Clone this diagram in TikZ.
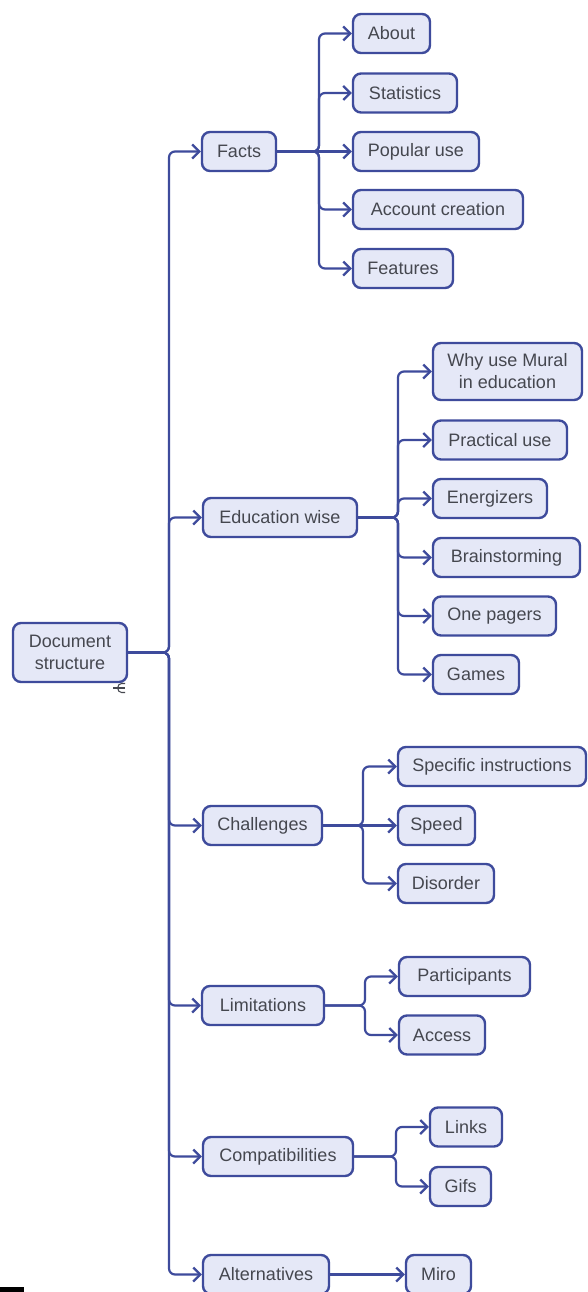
\documentclass[tikz,border=0pt]{standalone}
\usepackage{fontspec}
\setmainfont{Liberation Sans}
\usetikzlibrary{arrows.meta}
\definecolor{bord}{HTML}{3E4B9C}
\definecolor{boxfill}{HTML}{E5E8F7}
\definecolor{txt}{HTML}{45474F}
\tikzset{
  box/.style={draw=bord, fill=boxfill, line width=2.4pt, rounded corners=8pt,
    text=txt, font=\fontsize{18}{22}\selectfont, minimum height=39pt,
    inner sep=0pt, align=center},
  conn/.style={draw=bord, line width=2.2pt, rounded corners=6pt,
    -{Straight Barb[length=7pt,width=14pt]}}
}
\begin{document}
\begin{tikzpicture}[x=1pt,y=-1pt]
\useasboundingbox[fill=white] (0,0) rectangle (588,1292);

% root
\node[box, minimum width=114pt, minimum height=59pt] (root) at (70,652.5) {Document\\structure};

% level 1
\node[box, minimum width=74pt]  (facts) at (239,151.5) {Facts};
\node[box, minimum width=154pt] (edu)   at (280,517.5) {Education wise};
\node[box, minimum width=119pt] (chal)  at (262.5,825.5) {Challenges};
\node[box, minimum width=122pt] (lim)   at (263,1005.5) {Limitations};
\node[box, minimum width=150pt] (comp)  at (278,1156.5) {Compatibilities};
\node[box, minimum width=126pt] (alt)   at (266,1274.5) {Alternatives};

% facts children
\node[box, minimum width=77pt]  (about)   at (391.5,33.5) {About};
\node[box, minimum width=104pt] (stats)   at (405,93) {Statistics};
\node[box, minimum width=126pt] (popular) at (416,151.5) {Popular use};
\node[box, minimum width=170pt] (account) at (438,209.5) {Account creation};
\node[box, minimum width=100pt] (features) at (403,268.5) {Features};

% education children
\node[box, minimum width=149pt, minimum height=57pt] (why) at (507.5,371.5) {Why use Mural\\in education};
\node[box, minimum width=134pt] (practical) at (500,440) {Practical use};
\node[box, minimum width=114pt] (energ) at (490,498.5) {Energizers};
\node[box, minimum width=147pt] (brain) at (506.5,557.5) {Brainstorming};
\node[box, minimum width=123pt] (one) at (494.5,616) {One pagers};
\node[box, minimum width=86pt]  (games) at (476,674.5) {Games};

% challenges children
\node[box, minimum width=188pt] (spec) at (492,766.5) {Specific instructions};
\node[box, minimum width=77pt]  (speed) at (436.5,825.5) {Speed};
\node[box, minimum width=96pt]  (disorder) at (446,883.5) {Disorder};

% limitations children
\node[box, minimum width=131pt] (part) at (464.5,976.5) {Participants};
\node[box, minimum width=86pt]  (access) at (442,1035) {Access};

% compatibilities children
\node[box, minimum width=72pt] (links) at (466,1127) {Links};
\node[box, minimum width=61pt] (gifs) at (460.5,1186.5) {Gifs};

% alternatives child
\node[box, minimum width=65pt] (miro) at (438.5,1274.5) {Miro};

% bus coordinates
\coordinate (trunk) at (169,652.5);
\coordinate (fbus) at (319,151.5);
\coordinate (ebus) at (398,517.5);
\coordinate (cbus) at (363,825.5);
\coordinate (lbus) at (365,1005.5);
\coordinate (pbus) at (396,1156.5);

% trunk connectors
\foreach \c in {facts,edu,chal,lim,comp,alt}
  \draw[conn] (root.east) -- (trunk) |- (\c.west);

% facts
\foreach \c in {about,stats,account,features}
  \draw[conn] (facts.east) -- (fbus) |- (\c.west);
\draw[conn] (facts.east) -- (popular.west);

% education
\foreach \c in {why,practical,energ,brain,one,games}
  \draw[conn] (edu.east) -- (ebus) |- (\c.west);

% challenges
\draw[conn] (chal.east) -- (cbus) |- (spec.west);
\draw[conn] (chal.east) -- (speed.west);
\draw[conn] (chal.east) -- (cbus) |- (disorder.west);

% limitations
\draw[conn] (lim.east) -- (lbus) |- (part.west);
\draw[conn] (lim.east) -- (lbus) |- (access.west);

% compatibilities
\draw[conn] (comp.east) -- (pbus) |- (links.west);
\draw[conn] (comp.east) -- (pbus) |- (gifs.west);

% alternatives
\draw[conn] (alt.east) -- (miro.west);

% small collapse glyph near root
\draw[txt, line width=1.1pt] (113,688) -- (125,688);
\draw[txt, line width=1.1pt] (125,683.5) -- (121.5,683.5)
  .. controls (116.5,683.5) and (116.5,692.5) .. (121.5,692.5) -- (125,692.5);

% black bar bottom-left
\fill[black] (0,1287) rectangle (24,1292);
\end{tikzpicture}
\end{document}
